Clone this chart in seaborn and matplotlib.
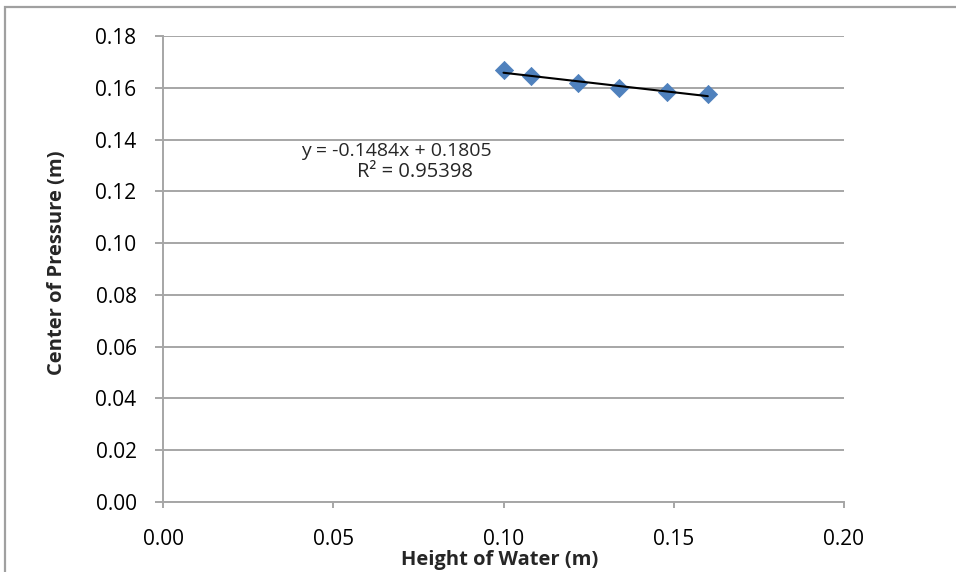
import numpy as np
import pandas as pd
import matplotlib
matplotlib.use("Agg")
import matplotlib.pyplot as plt
import seaborn as sns
from matplotlib.patches import Rectangle

# ---- data ----
height_of_water = [0.100, 0.108, 0.122, 0.134, 0.148, 0.160]
center_of_pressure = [0.1667, 0.1645, 0.1617, 0.1600, 0.1585, 0.1575]
x_tick_values = [0.00, 0.05, 0.10, 0.15, 0.20]
y_tick_values = [0.00, 0.02, 0.04, 0.06, 0.08, 0.10, 0.12, 0.14, 0.16, 0.18]
equation_text = "y = -0.1484x + 0.1805"
r2_text = "R² = 0.95398"
x_label = "Height of Water (m)"
y_label = "Center of Pressure (m)"

sns.set_style("white")
plt.rcParams["font.family"] = ["Open Sans", "DejaVu Sans"]

W, H = 956, 572
fig = plt.figure(figsize=(W / 100, H / 100), dpi=100)
fig.patch.set_facecolor("white")

# outer chart-area border (right/bottom cropped in the reference)
fig.add_artist(Rectangle((5 / W, -0.05), 1.2, (H - 7) / H + 0.05,
                         transform=fig.transFigure, fill=False,
                         edgecolor="#A0A0A0", linewidth=1.6))

ax = fig.add_axes([163 / W, 1 - 502 / H, 681 / W, 466 / H])
ax.set_facecolor("white")

df = pd.DataFrame({"height": height_of_water, "center": center_of_pressure})

sns.scatterplot(data=df, x="height", y="center", marker="D", s=85,
                color="#4F81BD", edgecolor="#4F81BD", linewidth=0.6,
                ax=ax, zorder=3)
sns.regplot(data=df, x="height", y="center", scatter=False, ci=None,
            truncate=True, color="black", line_kws={"lw": 1.5, "zorder": 4},
            ax=ax)

ax.set_xlim(0, 0.20)
ax.set_ylim(0, 0.18)
ax.set_xticks(x_tick_values)
ax.set_yticks(y_tick_values)
ax.set_xticklabels([f"{v:.2f}" for v in x_tick_values])
ax.set_yticklabels([f"{v:.2f}" for v in y_tick_values])
ax.set_xlabel("")
ax.set_ylabel("")

grid_c = "#A6A6A6"
ax.yaxis.grid(True, color=grid_c, linewidth=1.4)
ax.xaxis.grid(False)
ax.set_axisbelow(True)
for s in ["top", "right"]:
    ax.spines[s].set_visible(False)
for s in ["left", "bottom"]:
    ax.spines[s].set_color(grid_c)
    ax.spines[s].set_linewidth(1.4)

ax.tick_params(axis="y", direction="out", length=6, width=1.4, color=grid_c,
               pad=13, labelsize=15, labelcolor="black", left=True)
ax.tick_params(axis="x", direction="out", length=4.5, width=1.4, color=grid_c,
               pad=15, labelsize=15, labelcolor="black", bottom=True)

ax.text(0.0404, 0.1336, equation_text, fontsize=14, ha="left", va="baseline")
ax.text(0.0740, 0.1255, r2_text, fontsize=14.5, ha="center", va="baseline")

fig.text(57 / W, 1 - 263 / H, y_label, rotation=90, ha="center", va="center",
         fontsize=14.5, fontweight="bold")
fig.text(500 / W, 1 - 560 / H, x_label, ha="center", va="center",
         fontsize=14.5, fontweight="bold")

fig.savefig("out.png", dpi=100, facecolor="white")
